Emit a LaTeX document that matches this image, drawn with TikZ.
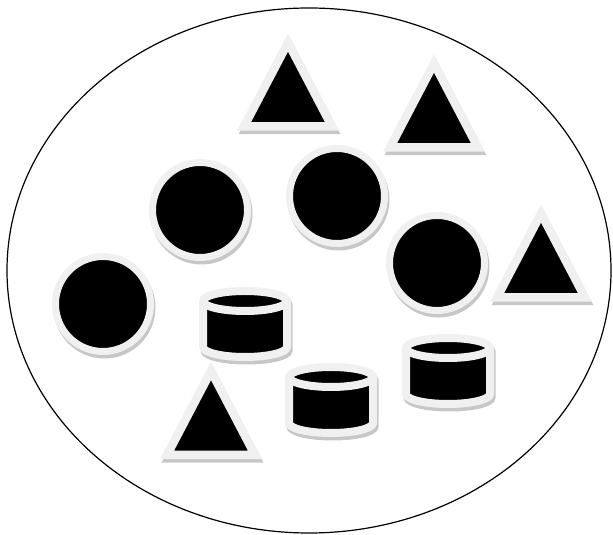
\documentclass[tikz,border=0pt]{standalone}
\usetikzlibrary{calc}

\tikzset{
  piece/.style={fill=black, draw=black!6, line width=#1, line join=miter,
    preaction={draw=black!22, fill=black!22, line width=#1,
      transform canvas={xshift=1.5pt, yshift=-3.5pt}}},
  piece/.default=8pt
}

\begin{document}
\begin{tikzpicture}[x=1pt, y=1pt]

    % Frame of the picture
    \useasboundingbox (0,0) rectangle (613,535);

    % Outer set
    \draw[line width=1.2pt] (309,264.5) ellipse [x radius=302, y radius=262.5];

    % Parameters for the pieces
    \def\rad{47.5}
    \def\halfb{44}
    \def\tall{84}
    \def\rx{42}
    \def\ry{10}
    \def\half{23}

    % Circles
    \foreach \x/\y in {200/325, 337/339, 437/272, 103/231} {
        \filldraw[piece=7pt] (\x,\y) circle (\rad);
    }

    % Triangles (apex given)
    \foreach \x/\y in {288/492.5, 434/471.5, 541/321.5, 211/164} {
        \filldraw[piece=8.5pt] (\x,\y) -- ({\x+\halfb},{\y-\tall}) -- ({\x-\halfb},{\y-\tall}) -- cycle;
    }

    % Cylinders
    \foreach \x/\y in {245/211, 331/135, 448/164} {
        \filldraw[piece=8pt, line join=round]
            ({\x-\rx},{\y+\half}) -- ({\x-\rx},{\y-\half})
            arc[start angle=180, end angle=360, x radius=\rx, y radius=\ry]
            -- ({\x+\rx},{\y+\half})
            arc[start angle=0, end angle=180, x radius=\rx, y radius=\ry] -- cycle;
        \draw[draw=black!6, line width=8pt]
            ({\x-\rx},{\y+\half}) arc[start angle=180, end angle=360, x radius=\rx, y radius=\ry];
    }

\end{tikzpicture}
\end{document}
